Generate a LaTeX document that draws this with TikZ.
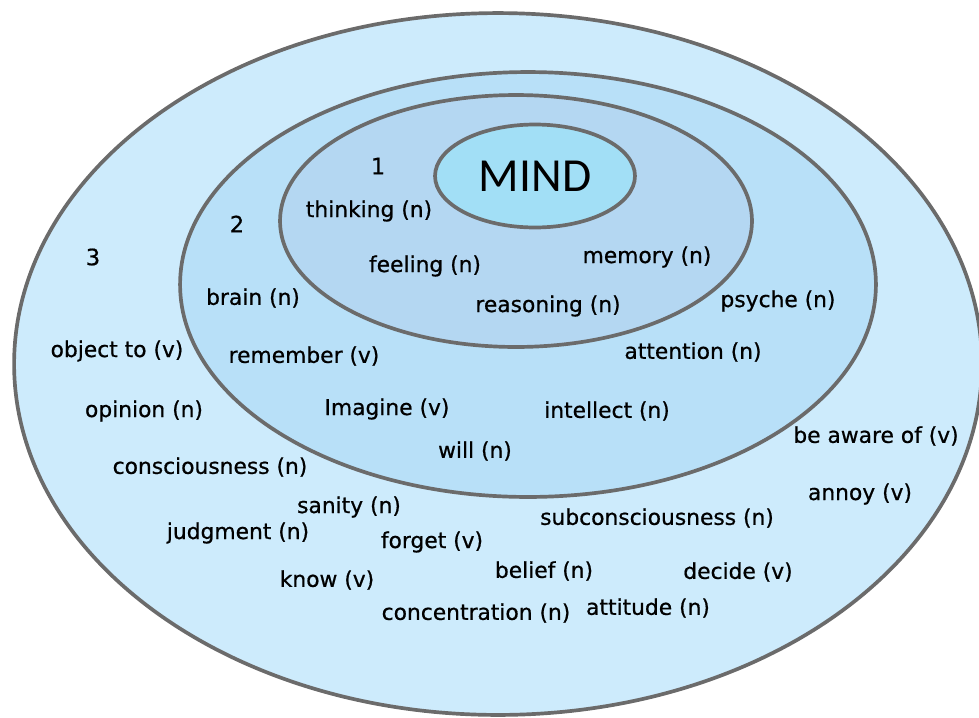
\documentclass[tikz,border=0pt]{standalone}
\usepackage{fontspec}
\setmainfont{DejaVu Sans}[FakeBold=0.7]
\newfontfamily\mindfont{Carlito}
\usetikzlibrary{shapes.geometric}

\definecolor{ringline}{HTML}{6B6B6B}
\definecolor{ringthree}{HTML}{CDEBFC}
\definecolor{ringtwo}{HTML}{B8E0F8}
\definecolor{ringone}{HTML}{B4D7F2}
\definecolor{mindfill}{HTML}{A2DFF6}

\begin{document}
\begin{tikzpicture}[x=0.02cm, y=-0.02cm,
				 ringnode/.style={ellipse, draw=ringline, line width=2.1pt, inner sep=0pt},
				 wordnode/.style={font=\fontsize{12.4}{14}\selectfont, inner sep=0pt},
				 levelnode/.style={font=\fontsize{12.8}{14}\selectfont, inner sep=0pt},
				 ]
				 \useasboundingbox (0, 0) rectangle (979, 717);
				 \clip (0, 0) rectangle (979, 717);

				 % Rings
				 \node[ringnode, fill=ringthree, minimum width=19.36cm, minimum height=14.04cm]	(ring_level3)	at (498, 364)	{};
				 \node[ringnode, fill=ringtwo, minimum width=13.92cm, minimum height=8.5cm]		(ring_level2)	at (528, 284.5)	{};
				 \node[ringnode, fill=ringone, minimum width=9.44cm, minimum height=5.04cm]		(ring_level1)	at (516, 221)	{};
				 \node[ringnode, fill=mindfill, minimum width=4cm, minimum height=2.06cm,
				       font=\mindfont\fontsize{27}{30}\selectfont]								(mind)			at (535, 176)	{MIND};

				 % Level numbers
				 \node[levelnode]		(num_level1)		at (378, 166)	{1};
				 \node[levelnode]		(num_level2)		at (237, 224)	{2};
				 \node[levelnode]		(num_level3)		at (93, 257)	{3};

				 % Level 1 words
				 \node[wordnode]		(thinking)			at (369, 211)	{thinking (n)};
				 \node[wordnode]		(feeling)			at (425, 266)	{feeling (n)};
				 \node[wordnode]		(memory)			at (647, 257)	{memory (n)};
				 \node[wordnode]		(reasoning)			at (548, 306)	{reasoning (n)};

				 % Level 2 words
				 \node[wordnode]		(brain)				at (253, 298)	{brain (n)};
				 \node[wordnode]		(psyche)			at (778, 301)	{psyche (n)};
				 \node[wordnode]		(remember)			at (304, 356)	{remember (v)};
				 \node[wordnode]		(attention)			at (693, 352)	{attention (n)};
				 \node[wordnode]		(imagine)			at (387, 409)	{Imagine (v)};
				 \node[wordnode]		(intellect)			at (607, 411)	{intellect (n)};
				 \node[wordnode]		(will)				at (475, 451)	{will (n)};

				 % Level 3 words
				 \node[wordnode]		(object_to)			at (117, 351)	{object to (v)};
				 \node[wordnode]		(opinion)			at (144, 411)	{opinion (n)};
				 \node[wordnode]		(consciousness)		at (210, 467)	{consciousness (n)};
				 \node[wordnode]		(be_aware)			at (876, 436)	{be aware of (v)};
				 \node[wordnode]		(annoy)				at (860, 494)	{annoy (v)};
				 \node[wordnode]		(sanity)			at (349, 507)	{sanity (n)};
				 \node[wordnode]		(subconsciousness)	at (657, 518)	{subconsciousness (n)};
				 \node[wordnode]		(judgment)			at (238, 533)	{judgment (n)};
				 \node[wordnode]		(forget)			at (432, 542)	{forget (v)};
				 \node[wordnode]		(know)				at (327, 580)	{know (v)};
				 \node[wordnode]		(belief)			at (544, 571)	{belief (n)};
				 \node[wordnode]		(decide)			at (738, 572)	{decide (v)};
				 \node[wordnode]		(concentration)		at (476, 613)	{concentration (n)};
				 \node[wordnode]		(attitude)			at (648, 608)	{attitude (n)};
			\end{tikzpicture}
\end{document}
